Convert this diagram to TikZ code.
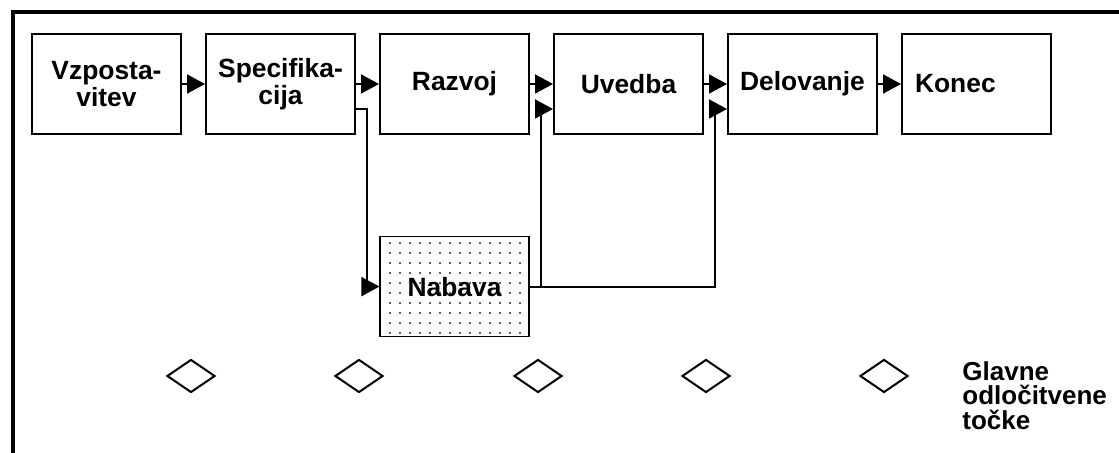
\documentclass[tikz,border=0pt]{standalone}
\usepackage{fontspec}
\setmainfont{Liberation Sans}
\usepackage{tikz}
\usetikzlibrary{shapes.geometric, arrows.meta, positioning, patterns.meta}

\begin{document}
\begin{tikzpicture}[
  x=0.5pt, y=0.5pt,
  node distance=11.5pt,
  box/.style={rectangle, draw, line width=1pt, minimum width=74.5pt,
              minimum height=50pt, align=center, inner sep=2pt,
              font=\fontsize{13.2}{12}\selectfont\bfseries},
  nabbox/.style={box, pattern={Dots[distance=5pt, radius=0.6pt]},
              pattern color=black!85, line width=0.6pt},
  decision/.style={diamond, draw, line width=1pt, minimum width=24pt,
              minimum height=16.5pt, inner sep=0pt},
  legend/.style={align=left, inner sep=0pt,
              font=\fontsize{13}{12.2}\selectfont\bfseries},
  arrow/.style={-{Triangle[length=9pt, width=9.5pt]}, line width=1pt},
  frame/.style={line width=2pt}
]
\useasboundingbox (0,0) rectangle (1119,453);

% outer frame
\draw[frame] (13,0) -- (13,441) -- (1119,441);

% phases
\node[box] (vz) at (106.5,369) {Vzposta-\\vitev};
\node[box, right=of vz] (spec) {Specifika-\\cija};
\node[box, right=of spec] (raz) {Razvoj};
\node[box, right=of raz] (uv) {Uvedba};
\node[box, right=of uv] (del) {Delovanje};
\node[box, right=of del, text width=61.5pt, align=left, inner xsep=6.5pt] (kon) {Konec};

\node[nabbox, below=50.5pt of raz] (nab) {Nabava};

% decision points
\node[decision] (d1) at (191,77) {};
\node[decision] (d2) at (359,77) {};
\node[decision] (d3) at (538,77) {};
\node[decision] (d4) at (706,77) {};
\node[decision] (d5) at (884,77) {};
\node[legend, anchor=north west] (leg) at (962,92)
  {Glavne\\odločitvene\\točke};

\draw[arrow] (vz) -- (spec);
\draw[arrow] (spec) -- (raz);
\draw[arrow] (raz) -- (uv);
\draw[arrow] (uv) -- (del);
\draw[arrow] (del) -- (kon);

\coordinate (uvlow) at ([yshift=-12.5pt]uv.west);
\coordinate (uvbend) at ([xshift=-6pt]uvlow);
\coordinate (dellow) at ([yshift=-12.5pt]del.west);
\coordinate (delbend) at ([xshift=-6pt]dellow);

\draw[arrow] ([yshift=-12.5pt]spec.east) -- ++(5.5pt,0) |- (nab.west);
\draw[arrow] (nab.east) -| (delbend) -- (dellow);
\draw[arrow] (nab.east -| uvbend) -- (uvbend) -- (uvlow);

\end{tikzpicture}
\end{document}
